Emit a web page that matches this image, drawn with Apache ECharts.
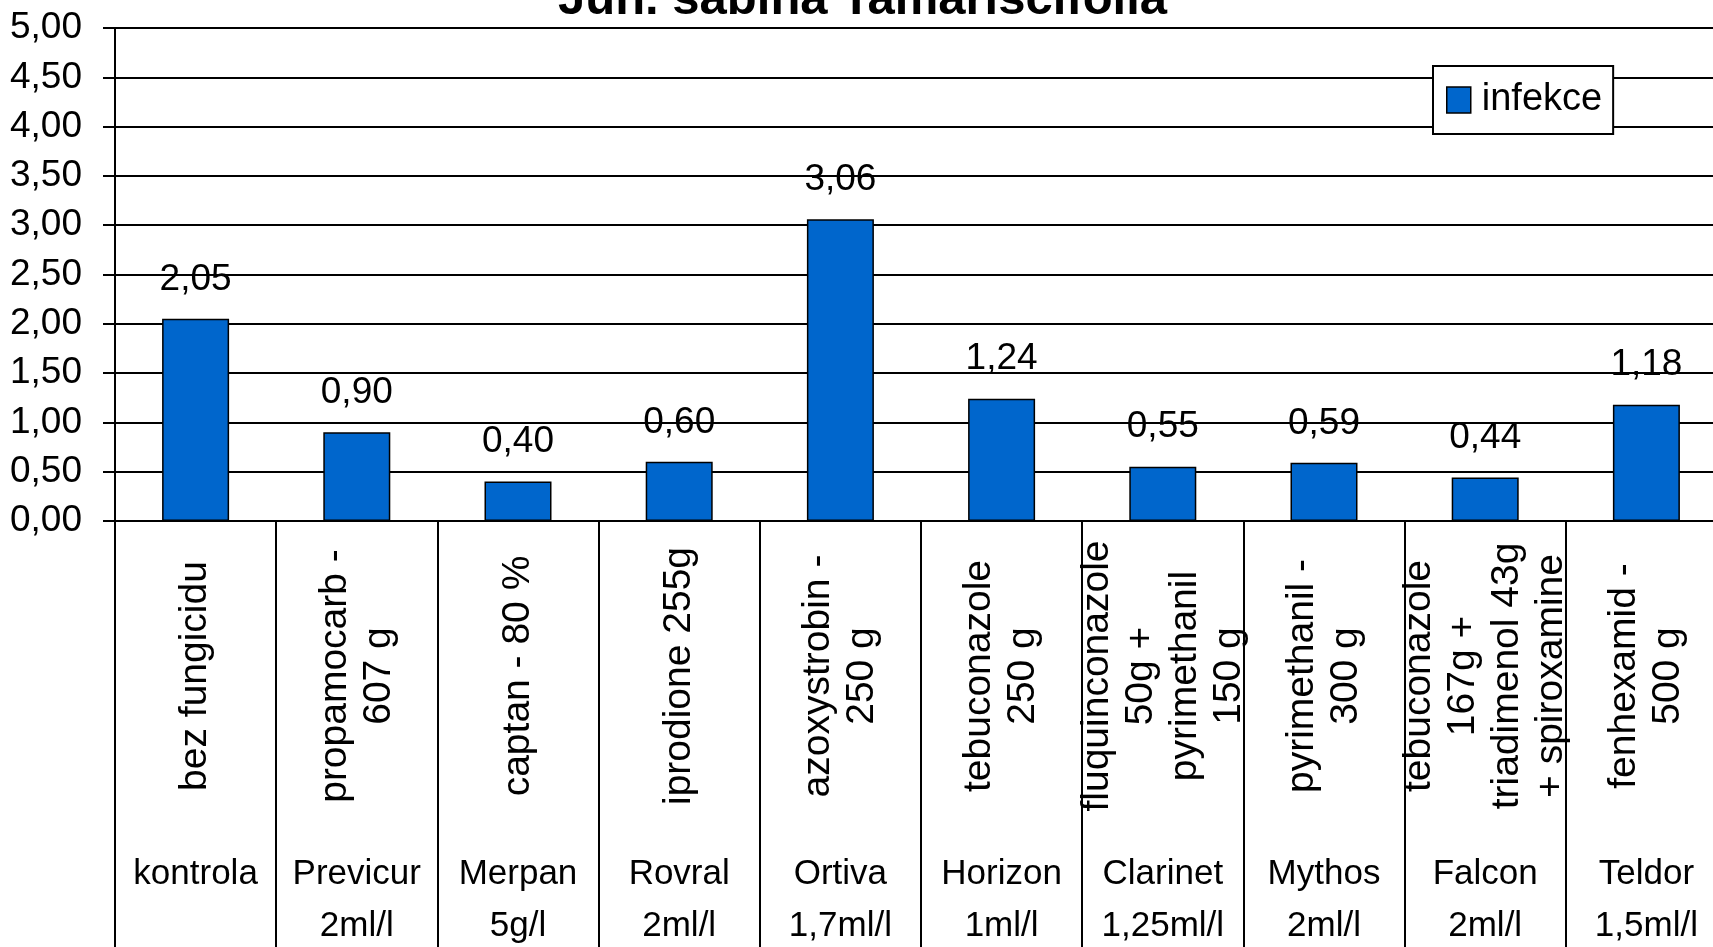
<!DOCTYPE html>
<html>
<head>
<meta charset="utf-8">
<script src="https://cdn.jsdelivr.net/npm/echarts@6/dist/echarts.min.js"></script>
<style>
  html, body { margin: 0; padding: 0; background: #fff; }
  #chart { width: 1713px; height: 947px; }
</style>
</head>
<body>
<div id="chart"></div>
<script>
let products = ['kontrola', 'Previcur', 'Merpan', 'Rovral', 'Ortiva',
  'Horizon', 'Clarinet', 'Mythos', 'Falcon', 'Teldor'];
let doses = ['', '2ml/l', '5g/l', '2ml/l', '1,7ml/l',
  '1ml/l', '1,25ml/l', '2ml/l', '2ml/l', '1,5ml/l'];
let ingredients = [
  'bez fungicidu',
  'propamocarb -\n607 g',
  'captan - 80 %',
  'iprodione 255g',
  'azoxystrobin -\n250 g',
  'tebuconazole\n250 g',
  'fluquinconazole\n50g +\npyrimethanil\n150 g',
  'pyrimethanil -\n300 g',
  'tebuconazole\n167g +\ntriadimenol 43g\n+ spiroxamine',
  'fenhexamid -\n500 g'
];
let infekce = [2.05, 0.90, 0.40, 0.60, 3.06, 1.24, 0.55, 0.59, 0.44, 1.18];

let productLabels = [];
for (let i = 0; i < products.length; i++) {
  productLabels.push(products[i] + '\n' + doses[i]);
}

function comma(v) {
  return Number(v).toFixed(2).replace('.', ',');
}

let font = "'Liberation Sans', Arial, sans-serif";
let chart = echarts.init(document.getElementById('chart'), null, {
  renderer: 'canvas'
});

let option = {
  animation: false,
  backgroundColor: '#ffffff',
  title: {
    text: 'Jun. sabina Tamariscifolia',
    left: 558,
    top: -24,
    padding: 0,
    textStyle: {
      fontFamily: font,
      fontSize: 49,
      fontWeight: 'bold',
      color: '#000'
    }
  },
  legend: {
    data: ['infekce'],
    left: 1433,
    top: 66,
    padding: [15, 11, 15, 13],
    backgroundColor: '#fff',
    borderColor: '#000',
    borderWidth: 2,
    borderRadius: 0,
    itemWidth: 24,
    itemHeight: 26,
    icon: 'rect',
    itemStyle: {
      borderColor: '#000',
      borderWidth: 1.5
    },
    textStyle: {
      fontFamily: font,
      fontSize: 38,
      color: '#000',
      padding: [0, 0, 0, 6]
    }
  },
  grid: {
    left: 115,
    right: -14,
    top: 28,
    bottom: 426,
    containLabel: false,
    outerBoundsMode: 'none'
  },
  xAxis: [{
      type: 'category',
      position: 'bottom',
      data: ingredients,
      axisLine: {
        show: true,
        lineStyle: { color: '#000', width: 2 }
      },
      axisTick: {
        show: true,
        alignWithLabel: false,
        length: 430,
        lineStyle: { color: '#000', width: 2 }
      },
      axisLabel: {
        interval: 0,
        rotate: 90,
        align: 'center',
        verticalAlign: 'middle',
        margin: 155,
        fontFamily: font,
        fontSize: 39,
        lineHeight: 44,
        color: '#000'
      },
      splitLine: { show: false }
    },
    {
      type: 'category',
      position: 'bottom',
      data: productLabels,
      axisLine: { show: false },
      axisTick: { show: false },
      axisLabel: {
        interval: 0,
        margin: 327,
        fontFamily: font,
        fontSize: 35,
        lineHeight: 52,
        color: '#000'
      },
      splitLine: { show: false }
    }
  ],
  yAxis: {
    type: 'value',
    min: 0,
    max: 5,
    interval: 0.5,
    axisLine: {
      show: true,
      lineStyle: { color: '#000', width: 2 }
    },
    axisTick: {
      show: true,
      length: 12,
      lineStyle: { color: '#000', width: 2 }
    },
    axisLabel: {
      margin: 33,
      fontFamily: font,
      fontSize: 37,
      color: '#000',
      formatter: comma
    },
    splitLine: {
      show: true,
      lineStyle: { color: '#000', width: 2 }
    }
  },
  series: [{
    name: 'infekce',
    type: 'bar',
    xAxisIndex: 0,
    data: infekce,
    barWidth: 67,
    itemStyle: {
      color: '#0066cc',
      borderColor: '#000',
      borderWidth: 1.5
    },
    label: {
      show: true,
      position: 'top',
      distance: 21,
      fontFamily: font,
      fontSize: 37,
      color: '#000',
      formatter: function(p) {
        return comma(p.value);
      }
    }
  }]
};
chart.setOption(option);
</script>
</body>
</html>
